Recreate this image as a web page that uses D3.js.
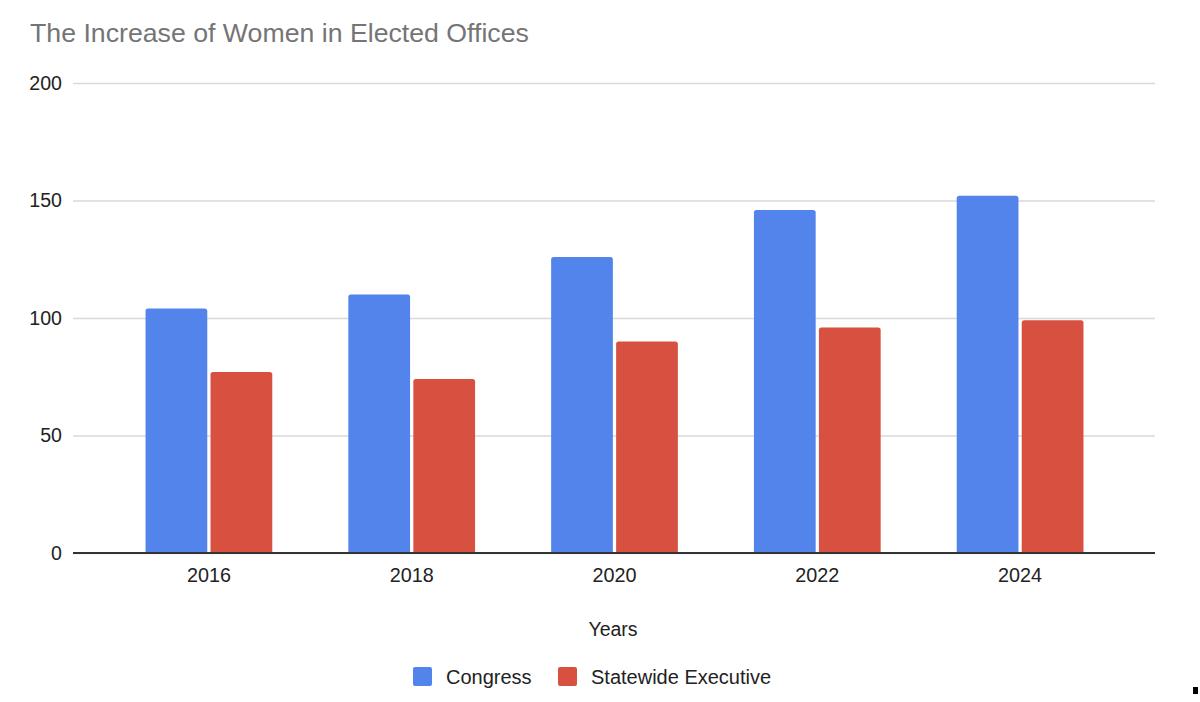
<!DOCTYPE html>
<html>
<head>
<meta charset="utf-8">
<script src="https://cdn.jsdelivr.net/npm/d3@7"></script>
<style>
  html, body { margin: 0; padding: 0; background: #fff; }
  svg { display: block; font-family: "Liberation Sans", Arial, sans-serif; }
</style>
</head>
<body>
<svg id="chart" width="1200" height="702"></svg>
<script>
const title = "The Increase of Women in Elected Offices";
const years = ["2016", "2018", "2020", "2022", "2024"];
const seriesNames = ["Congress", "Statewide Executive"];
const congress = [104, 110, 126, 146, 152];
const statewide = [77, 74, 90, 96, 99];
const yTicks = [0, 50, 100, 150, 200];
const xAxisTitle = "Years";
const colors = ["#5384ec", "#d85140"];

const svg = d3.select("#chart");
const W = 1200, H = 702;
svg.append("rect").attr("width", W).attr("height", H).attr("fill", "#fff");

const plotLeft = 73, plotRight = 1155;
const y = d3.scaleLinear().domain([0, 200]).range([553, 83]);
const x0 = d3.scaleBand().domain(years).range([107, 1122]).paddingInner(0.375).paddingOuter(0.19);
const x1 = d3.scaleBand().domain(seriesNames).range([0, x0.bandwidth()]).paddingInner(0.05);

// Title
svg.append("text")
  .attr("x", 30).attr("y", 42)
  .attr("font-size", 26.7).attr("fill", "#757575")
  .text(title);

// Gridlines
const yAxis = d3.axisLeft(y).tickValues(yTicks).tickSize(-(plotRight - plotLeft)).tickPadding(11);
const gy = svg.append("g").attr("transform", `translate(${plotLeft},0)`).call(yAxis);
gy.select(".domain").remove();
gy.selectAll(".tick line").attr("stroke", "#d9d9d9").attr("stroke-width", 1.5);
gy.selectAll(".tick text").attr("font-size", 19.6).attr("fill", "#222")
  .attr("font-family", "'Liberation Sans', Arial, sans-serif");

// Bars
const data = years.map((yr, i) => ({ year: yr, values: [congress[i], statewide[i]] }));
const groups = svg.append("g").selectAll("g").data(data).join("g")
  .attr("transform", d => `translate(${x0(d.year)},0)`);
groups.selectAll("path").data(d => d.values.map((v, j) => ({ name: seriesNames[j], v, j })))
  .join("path")
  .attr("fill", d => colors[d.j])
  .attr("d", d => {
    const xl = x1(d.name), w = x1.bandwidth(), yt = y(d.v), yb = y(0), r = 2.5;
    return `M${xl},${yb}V${yt + r}Q${xl},${yt} ${xl + r},${yt}H${xl + w - r}Q${xl + w},${yt} ${xl + w},${yt + r}V${yb}Z`;
  });

// Baseline / x axis
const xAxis = d3.axisBottom(x0).tickSize(0).tickPadding(15);
const gx = svg.append("g").attr("transform", `translate(0,${y(0)})`).call(xAxis);
gx.select(".domain").remove();
gx.selectAll(".tick text").attr("font-size", 19.8).attr("fill", "#222")
  .attr("font-family", "'Liberation Sans', Arial, sans-serif");
svg.append("line")
  .attr("x1", plotLeft).attr("x2", plotRight)
  .attr("y1", y(0)).attr("y2", y(0))
  .attr("stroke", "#333").attr("stroke-width", 2);

// X axis title
svg.append("text")
  .attr("x", 613).attr("y", 636)
  .attr("text-anchor", "middle")
  .attr("font-size", 19.5).attr("fill", "#222")
  .text(xAxisTitle);

// Legend
const legendX = [413, 558];
const lg = svg.append("g").selectAll("g").data(seriesNames).join("g")
  .attr("transform", (d, i) => `translate(${legendX[i]},667)`);
lg.append("rect").attr("width", 19).attr("height", 19).attr("rx", 2)
  .attr("fill", (d, i) => colors[i]);
lg.append("text").attr("x", 33).attr("y", 16.5)
  .attr("font-size", 20).attr("fill", "#222")
  .text(d => d);

// small corner mark present in the reference image
svg.append("rect").attr("x", 1193).attr("y", 687).attr("width", 5).attr("height", 7).attr("fill", "#000");
</script>
</body>
</html>
